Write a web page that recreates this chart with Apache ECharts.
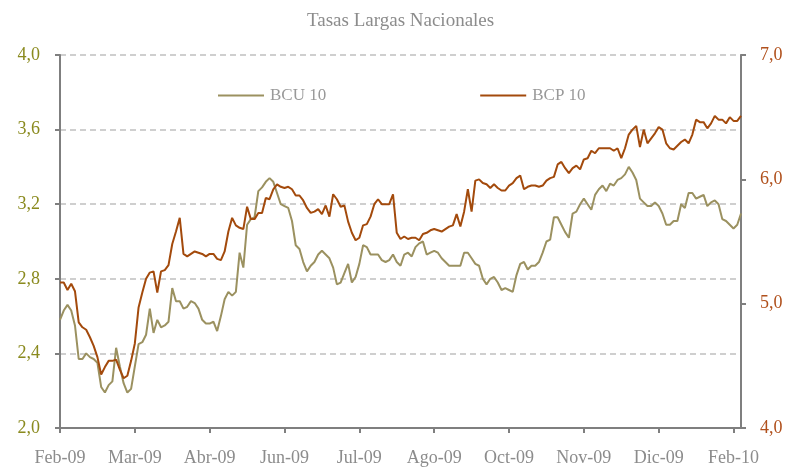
<!DOCTYPE html>
<html>
<head>
<meta charset="utf-8">
<script src="https://cdn.jsdelivr.net/npm/echarts@6/dist/echarts.min.js"></script>
<style>html,body{margin:0;padding:0;background:#fff}#c{width:789px;height:467px}</style>
</head>
<body>
<div id="c"></div>
<script>
var title = 'Tasas Largas Nacionales';
var seriesNames = ['BCU 10', 'BCP 10'];
var tickLabels = ['Feb-09','Mar-09','Abr-09','Jun-09','Jul-09','Ago-09','Oct-09','Nov-09','Dic-09','Feb-10'];
var pointsPerTick = 20;

var bcu10 = [
2.58,2.63,2.66,2.63,2.55,2.37,2.37,2.40,2.38,2.37,
2.35,2.22,2.19,2.23,2.25,2.43,2.33,2.24,2.19,2.21,
2.33,2.45,2.46,2.50,2.64,2.51,2.58,2.54,2.55,2.57,
2.75,2.68,2.68,2.64,2.65,2.68,2.67,2.64,2.58,2.56,
2.56,2.57,2.52,2.60,2.69,2.73,2.71,2.73,2.94,2.86,
3.09,3.12,3.13,3.27,3.29,3.32,3.34,3.32,3.26,3.20,
3.19,3.18,3.11,2.98,2.96,2.89,2.84,2.87,2.89,2.93,
2.95,2.93,2.91,2.86,2.77,2.78,2.83,2.88,2.78,2.81,
2.88,2.98,2.97,2.93,2.93,2.93,2.90,2.89,2.90,2.93,
2.89,2.87,2.93,2.94,2.92,2.97,2.99,3.00,2.93,2.94,
2.95,2.94,2.91,2.89,2.87,2.87,2.87,2.87,2.94,2.94,
2.91,2.88,2.87,2.80,2.77,2.80,2.81,2.78,2.74,2.75,
2.74,2.73,2.82,2.88,2.89,2.85,2.87,2.87,2.89,2.94,
3.00,3.01,3.13,3.13,3.09,3.05,3.02,3.15,3.16,3.20,
3.23,3.20,3.17,3.25,3.28,3.30,3.27,3.31,3.30,3.33,
3.34,3.36,3.40,3.37,3.33,3.23,3.21,3.19,3.19,3.21,
3.19,3.15,3.09,3.09,3.11,3.11,3.20,3.18,3.26,3.26,
3.23,3.24,3.25,3.19,3.21,3.22,3.20,3.12,3.11,3.09,
3.07,3.09,3.15
];

var bcp10 = [
5.17,5.17,5.11,5.16,5.10,4.85,4.81,4.79,4.73,4.66,
4.57,4.43,4.49,4.54,4.54,4.55,4.47,4.40,4.42,4.54,
4.68,4.97,5.09,5.20,5.25,5.26,5.09,5.26,5.27,5.31,
5.48,5.58,5.69,5.40,5.38,5.40,5.42,5.41,5.40,5.38,
5.40,5.40,5.36,5.35,5.42,5.58,5.69,5.63,5.61,5.60,
5.78,5.68,5.68,5.73,5.73,5.85,5.84,5.92,5.96,5.94,
5.93,5.94,5.92,5.87,5.87,5.83,5.77,5.73,5.74,5.76,
5.72,5.79,5.70,5.88,5.84,5.78,5.79,5.66,5.57,5.51,
5.53,5.63,5.64,5.70,5.80,5.84,5.80,5.80,5.80,5.88,
5.57,5.52,5.54,5.52,5.53,5.53,5.51,5.56,5.57,5.59,
5.60,5.59,5.58,5.60,5.62,5.63,5.72,5.62,5.74,5.92,
5.74,5.99,6.00,5.97,5.96,5.93,5.96,5.93,5.91,5.91,
5.95,5.97,6.01,6.03,5.92,5.94,5.95,5.95,5.94,5.95,
5.99,6.01,6.02,6.12,6.14,6.09,6.05,6.09,6.11,6.08,
6.16,6.17,6.23,6.21,6.25,6.25,6.25,6.25,6.23,6.25,
6.17,6.25,6.36,6.40,6.43,6.26,6.40,6.29,6.33,6.37,
6.42,6.40,6.29,6.25,6.24,6.27,6.30,6.32,6.29,6.36,
6.48,6.46,6.46,6.41,6.45,6.51,6.48,6.48,6.45,6.50,
6.47,6.47,6.51
];

var categories = bcu10.map(function (_, i) {
  return i % pointsPerTick === 0 ? (tickLabels[i / pointsPerTick] || '') : '';
});

var FONT = '"Liberation Serif", "DejaVu Serif", serif';
var fmt = function (v) { return v.toFixed(1).replace('.', ','); };

var chart = echarts.init(document.getElementById('c'), null, {renderer: 'canvas'});
chart.setOption({
  animation: false,
  backgroundColor: '#ffffff',
  title: {
    text: title, left: 302, top: 7,
    textStyle: {fontFamily: FONT, fontSize: 19, fontWeight: 'normal', color: '#8c8c8c'}
  },
  legend: {
    data: seriesNames, left: 213, top: 82, itemGap: 154,
    icon: 'rect', itemWidth: 46, itemHeight: 2,
    textStyle: {fontFamily: FONT, fontSize: 17, color: '#999999', padding: [0, 0, 0, 1]}
  },
  grid: {left: 60, right: 48, top: 55, bottom: 38, containLabel: false},
  xAxis: {
    type: 'category', data: categories, boundaryGap: false,
    axisLine: {show: true, lineStyle: {color: '#7f7f7f', width: 2}},
    axisTick: {show: true, interval: pointsPerTick - 1, length: 5, lineStyle: {color: '#7f7f7f', width: 2}},
    axisLabel: {interval: pointsPerTick - 1, margin: 21, fontFamily: FONT, fontSize: 18, color: '#8c8c8c'},
    splitLine: {show: false}
  },
  yAxis: [
    {
      type: 'value', min: 2.0, max: 4.0, interval: 0.4, position: 'left',
      axisLine: {show: true, lineStyle: {color: '#7f7f7f', width: 2}},
      axisTick: {show: true, length: 5, inside: false, lineStyle: {color: '#7f7f7f', width: 2}},
      axisLabel: {formatter: fmt, margin: 20, fontFamily: FONT, fontSize: 18, color: '#8a8a1e'},
      splitLine: {show: true, lineStyle: {color: '#c0c0c0', type: [6, 4], width: 1.5}}
    },
    {
      type: 'value', min: 4.0, max: 7.0, interval: 1.0, position: 'right',
      axisLine: {show: true, lineStyle: {color: '#7f7f7f', width: 2}},
      axisTick: {show: true, length: 5, lineStyle: {color: '#7f7f7f', width: 2}},
      axisLabel: {formatter: fmt, margin: 19, fontFamily: FONT, fontSize: 18, color: '#b0501c'},
      splitLine: {show: false}
    }
  ],
  series: [
    {
      name: seriesNames[0], type: 'line', yAxisIndex: 0, data: bcu10,
      showSymbol: false, symbol: 'none',
      lineStyle: {color: '#9b9160', width: 2}, itemStyle: {color: '#9b9160'}
    },
    {
      name: seriesNames[1], type: 'line', yAxisIndex: 1, data: bcp10,
      showSymbol: false, symbol: 'none',
      lineStyle: {color: '#a34a0c', width: 2}, itemStyle: {color: '#a34a0c'}
    }
  ]
});
</script>
</body>
</html>
